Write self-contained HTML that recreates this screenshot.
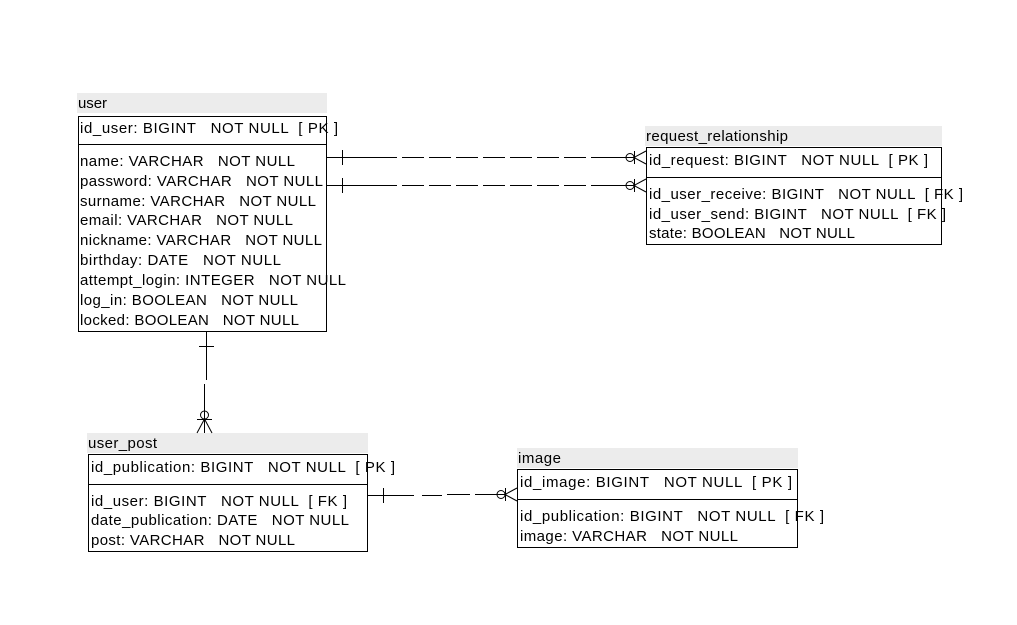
<!DOCTYPE html>
<html><head><meta charset="utf-8"><style>
html,body{margin:0;padding:0;background:#fff;}
svg{display:block;}
text{font-family:"Liberation Sans","DejaVu Sans",sans-serif;font-size:15px;fill:#000;white-space:pre;}
</style></head><body>
<svg width="1017" height="625" viewBox="0 0 1017 625" xmlns="http://www.w3.org/2000/svg" xml:space="preserve">
<rect width="1017" height="625" fill="#fff"/>
<g fill="#ececec">
<rect x="77" y="93" width="250" height="20"/>
<rect x="645" y="126" width="297" height="20"/>
<rect x="87" y="433" width="281" height="20"/>
<rect x="517" y="448" width="281" height="20"/>
</g>
<g fill="none" stroke="#000" stroke-width="1">
<rect x="78.5" y="116.5" width="248" height="215"/>
<line x1="78" y1="144.5" x2="327" y2="144.5"/>
<rect x="646.5" y="147.5" width="295" height="97"/>
<line x1="646" y1="177.5" x2="942" y2="177.5"/>
<rect x="88.5" y="454.5" width="279" height="97"/>
<line x1="88" y1="484.5" x2="368" y2="484.5"/>
<rect x="517.5" y="469.5" width="280" height="78"/>
<line x1="517" y1="499.5" x2="798" y2="499.5"/>
</g>
<g>
<text x="78" y="108" textLength="29">user</text>
<text x="80" y="133" textLength="258">id_user: BIGINT   NOT NULL  [ PK ]</text>
<text x="80" y="166" textLength="215">name: VARCHAR   NOT NULL</text>
<text x="80" y="186" textLength="243">password: VARCHAR   NOT NULL</text>
<text x="80" y="206" textLength="236">surname: VARCHAR   NOT NULL</text>
<text x="80" y="225" textLength="213">email: VARCHAR   NOT NULL</text>
<text x="80" y="245" textLength="242">nickname: VARCHAR   NOT NULL</text>
<text x="80" y="265" textLength="201">birthday: DATE   NOT NULL</text>
<text x="80" y="285" textLength="266">attempt_login: INTEGER   NOT NULL</text>
<text x="80" y="305" textLength="218">log_in: BOOLEAN   NOT NULL</text>
<text x="80" y="325" textLength="219">locked: BOOLEAN   NOT NULL</text>

<text x="646" y="141" textLength="142">request_relationship</text>
<text x="649" y="165" textLength="279">id_request: BIGINT   NOT NULL  [ PK ]</text>
<text x="649" y="199" textLength="314">id_user_receive: BIGINT   NOT NULL  [ FK ]</text>
<text x="649" y="219" textLength="297">id_user_send: BIGINT   NOT NULL  [ FK ]</text>
<text x="649" y="238" textLength="206">state: BOOLEAN   NOT NULL</text>

<text x="88" y="448" textLength="69">user_post</text>
<text x="91" y="472" textLength="304">id_publication: BIGINT   NOT NULL  [ PK ]</text>
<text x="91" y="506" textLength="256">id_user: BIGINT   NOT NULL  [ FK ]</text>
<text x="91" y="525" textLength="258">date_publication: DATE   NOT NULL</text>
<text x="91" y="545" textLength="204">post: VARCHAR   NOT NULL</text>

<text x="518" y="463" textLength="43">image</text>
<text x="520" y="487" textLength="272">id_image: BIGINT   NOT NULL  [ PK ]</text>
<text x="520" y="521" textLength="304">id_publication: BIGINT   NOT NULL  [ FK ]</text>
<text x="520" y="541" textLength="218">image: VARCHAR   NOT NULL</text>
</g>
<g fill="none" stroke="#000" stroke-width="1">
<g>
<line x1="327" y1="157.5" x2="375" y2="157.5"/>
<line x1="342.5" y1="150" x2="342.5" y2="165"/>
<line x1="375" y1="157.5" x2="598" y2="157.5" stroke-dasharray="22,5"/>
<line x1="598" y1="157.5" x2="634" y2="157.5"/>
<circle cx="630" cy="157.5" r="4"/>
<line x1="634" y1="157.5" x2="646" y2="151"/>
<line x1="634" y1="157.5" x2="646" y2="164"/>
<line x1="634.5" y1="151" x2="634.5" y2="164"/>
</g>
<g transform="translate(0,28)">
<line x1="327" y1="157.5" x2="375" y2="157.5"/>
<line x1="342.5" y1="150" x2="342.5" y2="165"/>
<line x1="375" y1="157.5" x2="598" y2="157.5" stroke-dasharray="22,5"/>
<line x1="598" y1="157.5" x2="634" y2="157.5"/>
<circle cx="630" cy="157.5" r="4"/>
<line x1="634" y1="157.5" x2="646" y2="151"/>
<line x1="634" y1="157.5" x2="646" y2="164"/>
<line x1="634.5" y1="151" x2="634.5" y2="164"/>
</g>
<line x1="206.5" y1="331" x2="206.5" y2="380"/>
<line x1="199" y1="346.5" x2="214" y2="346.5"/>
<line x1="204.5" y1="384" x2="204.5" y2="433"/>
<circle cx="204.5" cy="415" r="4"/>
<line x1="197" y1="419.5" x2="212" y2="419.5"/>
<line x1="204.5" y1="419" x2="197" y2="433"/>
<line x1="204.5" y1="419" x2="212" y2="433"/>
<line x1="368" y1="495.5" x2="414" y2="495.5"/>
<line x1="383.5" y1="488" x2="383.5" y2="503"/>
<line x1="422" y1="495.5" x2="442" y2="495.5"/>
<line x1="447" y1="494.5" x2="470" y2="494.5"/>
<line x1="475" y1="494.5" x2="505" y2="494.5"/>
<circle cx="501" cy="494.5" r="4"/>
<line x1="505" y1="494.5" x2="517" y2="488"/>
<line x1="505" y1="494.5" x2="517" y2="501"/>
<line x1="505.5" y1="488" x2="505.5" y2="501"/>
</g>
</svg>
</body></html>
